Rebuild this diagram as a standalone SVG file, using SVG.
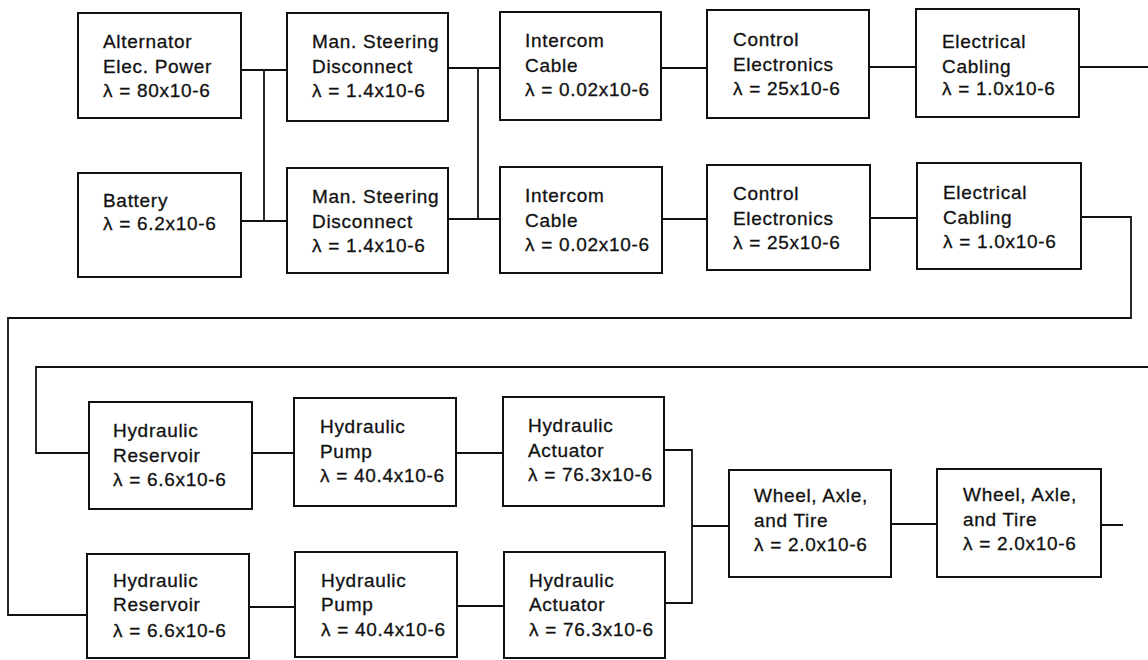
<svg xmlns="http://www.w3.org/2000/svg" width="1148" height="660" viewBox="0 0 1148 660">
<style>
  .box { fill: #ffffff; stroke: #111111; stroke-width: 2; }
  .t { font-family: "Liberation Sans", Arial, Helvetica, sans-serif; font-size: 19px; letter-spacing: 0.7px; fill: #111111; stroke: #111111; stroke-width: 0.3; }
  .wire { fill: none; stroke: #111111; stroke-width: 1.8; stroke-linejoin: miter; }
</style>
<rect x="0" y="0" width="1148" height="660" fill="#ffffff"/>

<g id="connectors">
  <path class="wire" d="M241 70 H287 M264 70 V221 M241 221 H287"/>
  <path class="wire" d="M448 68 H500 M478 68 V219 M448 219 H500"/>
  <path class="wire" d="M661 68 H707 M662 219 H707"/>
  <path class="wire" d="M869 67 H916 M870 218 H917"/>
  <path class="wire" d="M1079 67 H1148"/>
  <path class="wire" d="M1081 217 H1131 V318 H8 V615 H87"/>
  <path class="wire" d="M1148 367 H36 V453 H89"/>
  <path class="wire" d="M252 453 H294 M456 453 H503"/>
  <path class="wire" d="M249 607 H295 M457 606 H504"/>
  <path class="wire" d="M664 450 H692 V603 H665 M692 526 H729"/>
  <path class="wire" d="M891 524 H937 M1101 525 H1123"/>
</g>

<g id="alternator">
  <rect class="box" x="78" y="13" width="163" height="105"/>
  <text class="t" x="103" y="48">Alternator</text>
  <text class="t" x="103" y="73">Elec. Power</text>
  <text class="t" x="103" y="97">λ = 80x10-6</text>
</g>
<g id="steering1">
  <rect class="box" x="287" y="13" width="161" height="108"/>
  <text class="t" x="312" y="48">Man. Steering</text>
  <text class="t" x="312" y="73">Disconnect</text>
  <text class="t" x="312" y="97">λ = 1.4x10-6</text>
</g>
<g id="intercom1">
  <rect class="box" x="500" y="12" width="161" height="108"/>
  <text class="t" x="525" y="47">Intercom</text>
  <text class="t" x="525" y="72">Cable</text>
  <text class="t" x="525" y="96">λ = 0.02x10-6</text>
</g>
<g id="control1">
  <rect class="box" x="707" y="10" width="162" height="108"/>
  <text class="t" x="733" y="46">Control</text>
  <text class="t" x="733" y="71">Electronics</text>
  <text class="t" x="733" y="95">λ = 25x10-6</text>
</g>
<g id="cabling1">
  <rect class="box" x="916" y="9" width="163" height="108"/>
  <text class="t" x="942" y="48">Electrical</text>
  <text class="t" x="942" y="73">Cabling</text>
  <text class="t" x="942" y="95">λ = 1.0x10-6</text>
</g>

<g id="battery">
  <rect class="box" x="78" y="173" width="163" height="104"/>
  <text class="t" x="103" y="207">Battery</text>
  <text class="t" x="103" y="230">λ = 6.2x10-6</text>
</g>
<g id="steering2">
  <rect class="box" x="287" y="168" width="161" height="105"/>
  <text class="t" x="312" y="203">Man. Steering</text>
  <text class="t" x="312" y="228">Disconnect</text>
  <text class="t" x="312" y="252">λ = 1.4x10-6</text>
</g>
<g id="intercom2">
  <rect class="box" x="500" y="167" width="162" height="106"/>
  <text class="t" x="525" y="202">Intercom</text>
  <text class="t" x="525" y="227">Cable</text>
  <text class="t" x="525" y="251">λ = 0.02x10-6</text>
</g>
<g id="control2">
  <rect class="box" x="707" y="165" width="163" height="105"/>
  <text class="t" x="733" y="200">Control</text>
  <text class="t" x="733" y="225">Electronics</text>
  <text class="t" x="733" y="249">λ = 25x10-6</text>
</g>
<g id="cabling2">
  <rect class="box" x="917" y="163" width="164" height="106"/>
  <text class="t" x="943" y="199">Electrical</text>
  <text class="t" x="943" y="224">Cabling</text>
  <text class="t" x="943" y="248">λ = 1.0x10-6</text>
</g>

<g id="reservoir1">
  <rect class="box" x="89" y="402" width="163" height="107"/>
  <text class="t" x="113" y="437">Hydraulic</text>
  <text class="t" x="113" y="462">Reservoir</text>
  <text class="t" x="113" y="486">λ = 6.6x10-6</text>
</g>
<g id="pump1">
  <rect class="box" x="294" y="398" width="162" height="108"/>
  <text class="t" x="320" y="433">Hydraulic</text>
  <text class="t" x="320" y="458">Pump</text>
  <text class="t" x="320" y="482">λ = 40.4x10-6</text>
</g>
<g id="actuator1">
  <rect class="box" x="503" y="397" width="161" height="109"/>
  <text class="t" x="528" y="432">Hydraulic</text>
  <text class="t" x="528" y="457">Actuator</text>
  <text class="t" x="528" y="481">λ = 76.3x10-6</text>
</g>

<g id="wheel1">
  <rect class="box" x="729" y="470" width="162" height="107"/>
  <text class="t" x="754" y="502">Wheel, Axle,</text>
  <text class="t" x="754" y="527">and Tire</text>
  <text class="t" x="754" y="551">λ = 2.0x10-6</text>
</g>
<g id="wheel2">
  <rect class="box" x="937" y="469" width="164" height="108"/>
  <text class="t" x="963" y="501">Wheel, Axle,</text>
  <text class="t" x="963" y="526">and Tire</text>
  <text class="t" x="963" y="550">λ = 2.0x10-6</text>
</g>

<g id="reservoir2">
  <rect class="box" x="87" y="554" width="162" height="104"/>
  <text class="t" x="113" y="587">Hydraulic</text>
  <text class="t" x="113" y="611">Reservoir</text>
  <text class="t" x="113" y="637">λ = 6.6x10-6</text>
</g>
<g id="pump2">
  <rect class="box" x="295" y="552" width="162" height="105"/>
  <text class="t" x="321" y="587">Hydraulic</text>
  <text class="t" x="321" y="611">Pump</text>
  <text class="t" x="321" y="636">λ = 40.4x10-6</text>
</g>
<g id="actuator2">
  <rect class="box" x="504" y="552" width="161" height="106"/>
  <text class="t" x="529" y="587">Hydraulic</text>
  <text class="t" x="529" y="611">Actuator</text>
  <text class="t" x="529" y="636">λ = 76.3x10-6</text>
</g>
</svg>
